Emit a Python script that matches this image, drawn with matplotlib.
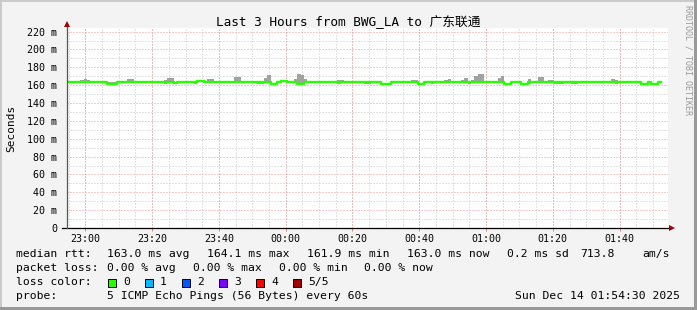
import matplotlib
matplotlib.use("Agg")
import matplotlib.pyplot as plt
from matplotlib.patches import Rectangle
import numpy as np

plt.rcParams['lines.scale_dashes'] = False

W, H = 697, 310
MONO = ['DejaVu Sans Mono', 'Noto Sans CJK SC']

title = "Last 3 Hours from BWG_LA to 广东联通"
start_time = "22:54:30"
span_min = 180
y_top = 224

# one sample per minute (ms)
median = [
    163.0, 163.0, 163.0, 163.0, 163.0, 163.0, 163.0, 163.0, 163.0, 163.0,
    163.0, 163.0, 161.8, 161.8, 161.8, 163.0, 163.0, 163.0, 163.0, 163.0,
    163.0, 163.0, 163.0, 163.0, 163.0, 163.0, 163.0, 163.0, 163.0, 163.0,
    164.0, 164.0, 162.0, 163.0, 163.0, 163.0, 163.0, 163.0, 163.0, 164.5,
    164.5, 163.0, 163.0, 163.0, 163.0, 163.0, 163.0, 163.0, 163.0, 163.0,
    163.0, 163.0, 163.0, 163.0, 163.0, 163.0, 163.0, 163.0, 163.0, 163.0,
    163.0, 161.5, 161.5, 163.0, 164.5, 164.5, 163.0, 163.0, 163.0, 161.5,
    161.5, 163.0, 163.0, 163.0, 163.0, 163.0, 163.0, 163.0, 163.0, 163.0,
    163.0, 163.0, 163.0, 163.0, 163.0, 163.0, 163.0, 163.0, 163.0, 163.0,
    163.0, 163.0, 163.0, 163.0, 161.5, 161.5, 161.5, 163.0, 163.0, 163.0,
    163.0, 163.0, 163.0, 163.0, 163.0, 161.5, 161.5, 163.0, 163.0, 163.0,
    163.0, 163.0, 163.0, 163.0, 163.0, 163.0, 163.0, 163.0, 163.0, 163.0,
    163.0, 163.0, 163.0, 163.0, 163.0, 163.0, 163.0, 163.0, 163.0, 163.0,
    163.0, 161.5, 161.5, 163.0, 163.0, 163.0, 161.5, 161.5, 163.0, 163.0,
    163.0, 163.0, 163.0, 163.0, 163.0, 163.0, 163.0, 163.0, 163.0, 163.0,
    163.0, 163.0, 163.0, 163.0, 163.0, 163.0, 163.0, 163.0, 163.0, 163.0,
    163.0, 163.0, 163.0, 163.0, 163.0, 163.0, 163.0, 163.0, 163.0, 163.0,
    163.0, 163.0, 161.5, 161.5, 163.0, 161.5, 161.5, 163.0,
]

# top of the smoke (slowest ping)
smoke_hi = [
    164.5, 164.5, 163.0, 163.0, 166.0, 167.0, 165.5, 163.0, 163.0, 163.0,
    163.0, 163.0, 163.5, 163.5, 163.5, 163.0, 163.0, 163.0, 167.3, 167.3,
    163.0, 163.0, 163.0, 163.0, 163.0, 163.0, 163.0, 163.0, 163.0, 166.0,
    168.4, 168.4, 162.0, 163.0, 163.0, 163.0, 163.0, 163.0, 163.0, 164.5,
    164.5, 163.0, 167.3, 167.3, 163.0, 163.0, 163.0, 163.0, 163.0, 163.0,
    169.0, 169.0, 163.0, 163.0, 163.0, 163.0, 163.0, 163.0, 163.0, 168.4,
    171.0, 161.5, 161.5, 163.0, 164.5, 164.5, 163.0, 163.0, 167.0, 172.0,
    171.0, 167.0, 163.0, 163.0, 163.0, 163.0, 163.0, 163.0, 163.0, 163.0,
    163.0, 166.0, 166.0, 163.0, 163.0, 163.0, 163.0, 163.0, 163.0, 163.0,
    163.0, 163.0, 163.0, 163.0, 161.5, 161.5, 161.5, 163.0, 163.0, 163.0,
    163.0, 163.0, 163.0, 166.0, 166.0, 161.5, 161.5, 163.0, 163.0, 163.0,
    163.0, 163.0, 163.0, 166.0, 167.3, 163.0, 163.0, 163.0, 166.0, 168.4,
    163.0, 166.0, 170.0, 172.0, 172.0, 165.0, 163.0, 163.0, 163.0, 168.4,
    170.3, 161.5, 161.5, 163.0, 164.5, 164.5, 161.5, 161.5, 167.3, 163.0,
    163.0, 169.5, 169.5, 163.0, 166.0, 166.0, 163.0, 163.0, 163.0, 163.0,
    163.0, 163.0, 164.6, 163.0, 163.0, 163.0, 163.0, 163.0, 163.0, 163.0,
    163.0, 163.0, 163.0, 167.3, 166.0, 163.0, 164.6, 164.6, 163.0, 163.0,
    163.0, 163.0, 161.5, 161.5, 164.6, 161.5, 161.5, 163.0,
]

# bottom of the smoke (fastest ping)
smoke_lo = [
    163.0, 163.0, 163.0, 163.0, 163.0, 163.0, 163.0, 163.0, 163.0, 163.0,
    163.0, 163.0, 161.8, 161.8, 161.8, 163.0, 163.0, 163.0, 163.0, 163.0,
    163.0, 163.0, 163.0, 163.0, 163.0, 163.0, 163.0, 163.0, 163.0, 161.0,
    164.0, 164.0, 162.0, 163.0, 163.0, 163.0, 163.0, 163.0, 161.0, 164.5,
    164.5, 163.0, 163.0, 163.0, 163.0, 163.0, 163.0, 163.0, 163.0, 163.0,
    163.0, 163.0, 163.0, 163.0, 163.0, 163.0, 163.0, 161.0, 161.0, 163.0,
    163.0, 161.5, 161.5, 163.0, 164.5, 164.5, 163.0, 163.0, 163.0, 161.5,
    161.5, 163.0, 163.0, 163.0, 163.0, 163.0, 163.0, 163.0, 163.0, 163.0,
    163.0, 161.0, 163.0, 163.0, 163.0, 163.0, 163.0, 163.0, 163.0, 161.0,
    161.0, 163.0, 163.0, 163.0, 161.5, 160.9, 160.9, 163.0, 163.0, 163.0,
    163.0, 163.0, 163.0, 163.0, 163.0, 161.5, 161.5, 163.0, 163.0, 161.0,
    163.0, 163.0, 163.0, 163.0, 163.0, 163.0, 163.0, 163.0, 163.0, 163.0,
    161.0, 163.0, 163.0, 163.0, 163.0, 163.0, 163.0, 163.0, 163.0, 163.0,
    163.0, 161.5, 161.5, 163.0, 163.0, 163.0, 161.5, 161.5, 161.0, 163.0,
    163.0, 163.0, 163.0, 163.0, 163.0, 163.0, 161.0, 161.0, 161.0, 163.0,
    163.0, 161.0, 161.0, 163.0, 163.0, 163.0, 163.0, 163.0, 163.0, 163.0,
    163.0, 163.0, 163.0, 163.0, 161.0, 163.0, 163.0, 163.0, 163.0, 163.0,
    163.0, 163.0, 161.5, 161.5, 163.0, 161.5, 161.5, 163.0,
]

x_labels = ["23:00", "23:20", "23:40", "00:00", "00:20", "00:40", "01:00", "01:20", "01:40"]
y_values = [0, 20, 40, 60, 80, 100, 120, 140, 160, 180, 200, 220]

stats_rtt = ["163.0 ms avg", "164.1 ms max", "161.9 ms min", "163.0 ms now", "0.2 ms sd", "713.8", "am/s"]
stats_loss = ["0.00 % avg", "0.00 % max", "0.00 % min", "0.00 % now"]
loss_names = ["0", "1", "2", "3", "4", "5/5"]
loss_colors = ["#26ff00", "#00b8ff", "#0059ff", "#7e00ff", "#ff0000", "#a10000"]
probe_text = "5 ICMP Echo Pings (56 Bytes) every 60s"
stamp = "Sun Dec 14 01:54:30 2025"


def to_min(hhmm):
    h, m = hhmm.split(":")[:2]
    sh, sm, ss = [int(v) for v in start_time.split(":")]
    return ((int(h) * 60 + int(m)) - (sh * 60 + sm + ss / 60.0)) % 1440


def fx(px):
    return px / W


def fy(py):
    return 1 - py / H


fig = plt.figure(figsize=(W / 100, H / 100), dpi=100, facecolor="#f3f3f3")

# frame like rrdtool's shade
fig.add_artist(Rectangle((0, fy(2)), 1, 2 / H, transform=fig.transFigure, color="#cbcbcb", lw=0))
fig.add_artist(Rectangle((0, 0), 2 / W, 1, transform=fig.transFigure, color="#cbcbcb", lw=0))
fig.add_artist(Rectangle((fx(694), 0), 3 / W, 1, transform=fig.transFigure, color="#999999", lw=0))
fig.add_artist(Rectangle((0, 0), 1, 3 / H, transform=fig.transFigure, color="#999999", lw=0))

left, right, top, bottom = 67, 668, 28, 228
ax = fig.add_axes([fx(left), fy(bottom), fx(right - left), (bottom - top) / H])
ax.set_facecolor("white")
ax.set_xlim(0, span_min)
ax.set_ylim(0, y_top)
for s in ax.spines.values():
    s.set_visible(False)

dots = (0, (0.72, 1.44))
# minor grid
for v in range(10, y_top, 10):
    if v % 20:
        ax.axhline(v, color="#c8c8c8", lw=0.72, ls=dots, zorder=1)
for m in np.arange(to_min("23:00") % 5, span_min, 5):
    ax.axvline(m, color="#c8c8c8", lw=0.72, ls=dots, zorder=1)
# major grid
for v in y_values[1:]:
    ax.axhline(v, color="#f49a9a", lw=0.72, ls=dots, zorder=1.1)
xt = [to_min(l) for l in x_labels]
for m in xt:
    ax.axvline(m, color="#f49a9a", lw=0.72, ls=dots, zorder=1.1)

t = np.arange(len(median) + 1)
med = np.array(median + [median[-1]])
hi = np.array(smoke_hi + [smoke_hi[-1]])
lo = np.array(smoke_lo + [smoke_lo[-1]])
ax.fill_between(t, np.minimum(lo, med), np.maximum(hi, med), step="post",
                color="#a2a2a2", lw=0, zorder=2)
ax.step(t, med, where="post", color="#26ff00", lw=1.7, zorder=3)

# axes with arrows
ax.plot([-5 / 3.34, span_min + 1], [0, 0], color="black", lw=0.9, clip_on=False, zorder=4)
ax.plot([0, 0], [0, y_top + 5], color="#555555", lw=0.9, clip_on=False, zorder=4)
ax.plot([span_min + 1.2], [0], marker=">", color="#a00000", ms=5, clip_on=False, zorder=5, mew=0)
ax.plot([0], [y_top + 4.5], marker="^", color="#a00000", ms=5, clip_on=False, zorder=5, mew=0)

ax.set_xticks(xt)
ax.set_xticklabels(x_labels, fontfamily=MONO, fontsize=7.2)
ax.tick_params(axis="x", length=2, width=0.7, color="#e08080", pad=2.5)
ax.set_yticks(y_values)
ax.set_yticklabels([("%d m" % v) if v else "0" for v in y_values], fontfamily=MONO, fontsize=7.2)
ax.tick_params(axis="y", length=0, pad=7)

fig.text(fx(11), fy(128), "Seconds", rotation=90, ha="center", va="center",
         fontfamily=MONO, fontsize=8)
fig.text(fx(348.5), fy(22), title, ha="center", va="center", fontfamily=MONO, fontsize=9.2)
fig.text(fx(688), fy(5), "RRDTOOL / TOBI OETIKER", rotation=270, ha="center", va="top",
         fontfamily=MONO, fontsize=6, color="#999999")

fs = 8.2
row1 = [107, 207, 307, 407, 507, 580, 642]
fig.text(fx(16), fy(254), "median rtt:", va="center", fontfamily=MONO, fontsize=fs)
for xp, s in zip(row1, stats_rtt):
    fig.text(fx(xp), fy(254), s, va="center", fontfamily=MONO, fontsize=fs)

row2 = [107, 193, 279, 364]
fig.text(fx(16), fy(268), "packet loss:", va="center", fontfamily=MONO, fontsize=fs)
for xp, s in zip(row2, stats_loss):
    fig.text(fx(xp), fy(268), s, va="center", fontfamily=MONO, fontsize=fs)

fig.text(fx(16), fy(282), "loss color:", va="center", fontfamily=MONO, fontsize=fs)
for k, (name, col) in enumerate(zip(loss_names, loss_colors)):
    bx = 108 + 37 * k
    fig.add_artist(Rectangle((fx(bx), fy(286.5)), 8 / W, 8 / H, transform=fig.transFigure,
                             facecolor=col, edgecolor="black", lw=0.7))
    fig.text(fx(bx + 15), fy(282), name, va="center", fontfamily=MONO, fontsize=fs)

fig.text(fx(16), fy(296), "probe:", va="center", fontfamily=MONO, fontsize=fs)
fig.text(fx(107), fy(296), probe_text, va="center", fontfamily=MONO, fontsize=fs)
fig.text(fx(680), fy(296), stamp, ha="right", va="center", fontfamily=MONO, fontsize=fs)

fig.savefig("out.png", dpi=100, facecolor=fig.get_facecolor())
